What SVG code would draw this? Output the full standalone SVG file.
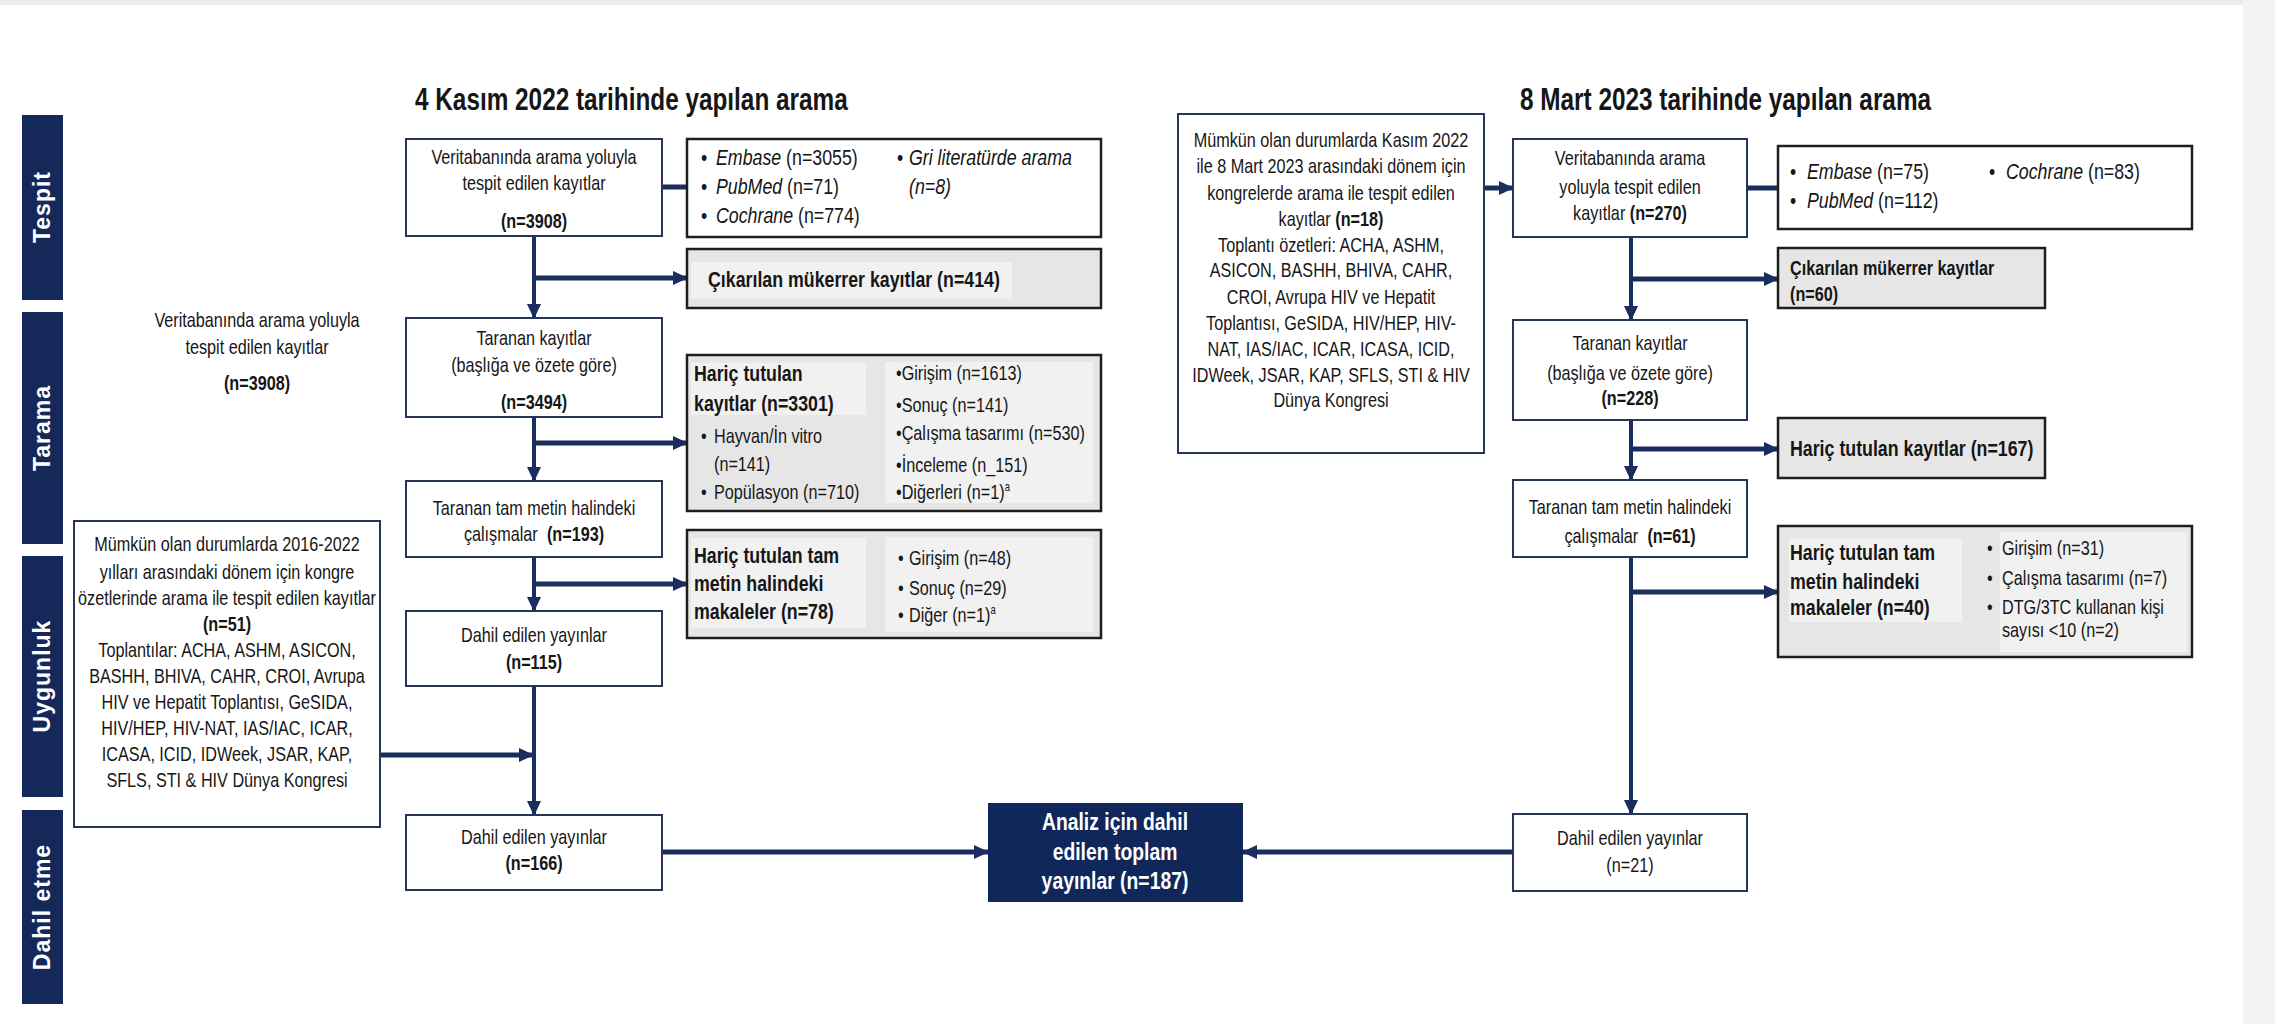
<svg xmlns="http://www.w3.org/2000/svg" width="2275" height="1024" viewBox="0 0 2275 1024">
<style>
text{font-family:"Liberation Sans",Arial,sans-serif;fill:#161616;font-size:20.5px}
.c{text-anchor:middle}
.b{font-weight:bold}
.h{font-weight:bold;font-size:22.5px}
.i{font-style:italic}
.s{font-size:22.5px}
.ttl{font-weight:bold;font-size:30.8px}
.side{font-weight:bold;font-size:23px;fill:#fff;text-anchor:middle;letter-spacing:1px}
.w{fill:#fff;font-weight:bold;font-size:24.5px}
.sup{font-size:12px}
.box{fill:#fff;stroke:#26355a;stroke-width:2}
.ex{fill:#e6e6e6;stroke:#1e1e1e;stroke-width:2.5}
.pn{fill:#f1f1f1}
.sb{fill:#14285a}
.ln{stroke:#1a2d5e;fill:none}
.v{stroke-width:4}
.hz{stroke-width:5}
</style>
<defs>
<marker id="ah" markerUnits="userSpaceOnUse" markerWidth="16" markerHeight="16" refX="14" refY="8" orient="auto" viewBox="0 0 16 16"><path d="M0,1 L15,8 L0,15 z" fill="#1a2d5e"/></marker>
</defs>
<rect x="0" y="0" width="2275" height="1024" fill="#fff"/>
<rect x="0" y="0" width="2275" height="5" fill="#ededed"/>
<rect x="2243" y="0" width="32" height="1024" fill="#f2f2f2"/>

<g id="lanes">
<g id="lane-tespit"><rect class="sb" x="22" y="115" width="41" height="185"/><text class="side" transform="translate(50,207) rotate(-90)">Tespit</text></g>
<g id="lane-tarama"><rect class="sb" x="22" y="312" width="41" height="232"/><text class="side" transform="translate(50,428) rotate(-90)">Tarama</text></g>
<g id="lane-uygunluk"><rect class="sb" x="22" y="556" width="41" height="241"/><text class="side" transform="translate(50,676) rotate(-90)">Uygunluk</text></g>
<g id="lane-dahil"><rect class="sb" x="22" y="810" width="41" height="194"/><text class="side" transform="translate(50,907) rotate(-90)">Dahil etme</text></g>
</g>

<g id="titles">
<text class="ttl" transform="translate(415,0) scale(.79,1)" y="110">4 Kasım 2022 tarihinde yapılan arama</text>
<text class="ttl" transform="translate(1520,0) scale(.79,1)" y="110">8 Mart 2023 tarihinde yapılan arama</text>
</g>

<g id="connectors">
<line class="ln hz" x1="662" y1="187" x2="687" y2="187"/>
<line class="ln v" x1="534" y1="236" x2="534" y2="318" marker-end="url(#ah)"/>
<line class="ln hz" x1="534" y1="278" x2="687" y2="278" marker-end="url(#ah)"/>
<line class="ln v" x1="534" y1="417" x2="534" y2="481" marker-end="url(#ah)"/>
<line class="ln hz" x1="534" y1="443" x2="687" y2="443" marker-end="url(#ah)"/>
<line class="ln v" x1="534" y1="557" x2="534" y2="611" marker-end="url(#ah)"/>
<line class="ln hz" x1="534" y1="584" x2="687" y2="584" marker-end="url(#ah)"/>
<line class="ln v" x1="534" y1="686" x2="534" y2="815" marker-end="url(#ah)"/>
<line class="ln hz" x1="380" y1="755" x2="533" y2="755" marker-end="url(#ah)"/>
<line class="ln hz" x1="662" y1="852" x2="988" y2="852" marker-end="url(#ah)"/>
<line class="ln hz" x1="1484" y1="188" x2="1513" y2="188" marker-end="url(#ah)"/>
<line class="ln hz" x1="1747" y1="188" x2="1778" y2="188"/>
<line class="ln v" x1="1631" y1="237" x2="1631" y2="320" marker-end="url(#ah)"/>
<line class="ln hz" x1="1631" y1="279" x2="1778" y2="279" marker-end="url(#ah)"/>
<line class="ln v" x1="1631" y1="420" x2="1631" y2="480" marker-end="url(#ah)"/>
<line class="ln hz" x1="1631" y1="449" x2="1778" y2="449" marker-end="url(#ah)"/>
<line class="ln v" x1="1631" y1="557" x2="1631" y2="814" marker-end="url(#ah)"/>
<line class="ln hz" x1="1631" y1="592" x2="1778" y2="592" marker-end="url(#ah)"/>
<line class="ln hz" x1="1513" y1="852" x2="1243" y2="852" marker-end="url(#ah)"/>
</g>

<g id="float-text">
<text class="c" transform="translate(257,0) scale(.79,1)"><tspan x="0" y="327">Veritabanında arama yoluyla</tspan><tspan x="0" y="354">tespit edilen kayıtlar</tspan><tspan x="0" y="390" class="b">(n=3908)</tspan></text>
</g>

<g id="L-db">
<rect class="box" x="406" y="139" width="256" height="97"/>
<text class="c" transform="translate(534,0) scale(.79,1)"><tspan x="0" y="164">Veritabanında arama yoluyla</tspan><tspan x="0" y="190">tespit edilen kayıtlar</tspan><tspan x="0" y="228" class="b">(n=3908)</tspan></text>
</g>

<g id="L-sources">
<rect class="box" x="687" y="139" width="414" height="98" style="stroke:#1e1e1e;stroke-width:2.5"/>
<text class="s" transform="translate(701,0) scale(.79,1)"><tspan x="0" y="165">•</tspan><tspan x="0" y="194">•</tspan><tspan x="0" y="223">•</tspan></text>
<text class="s" transform="translate(716,0) scale(.79,1)"><tspan x="0" y="165"><tspan class="i">Embase</tspan> (n=3055)</tspan><tspan x="0" y="194"><tspan class="i">PubMed</tspan> (n=71)</tspan><tspan x="0" y="223"><tspan class="i">Cochrane</tspan> (n=774)</tspan></text>
<text class="s" transform="translate(897,0) scale(.79,1)"><tspan x="0" y="165">•</tspan></text>
<text class="s i" transform="translate(909,0) scale(.79,1)"><tspan x="0" y="165">Gri literatürde arama</tspan><tspan x="0" y="194">(n=8)</tspan></text>
</g>

<g id="L-dup">
<rect class="ex" x="687" y="249" width="414" height="59"/>
<rect class="pn" x="691" y="262" width="321" height="37"/>
<text class="h" transform="translate(708,0) scale(.79,1)" y="287">Çıkarılan mükerrer kayıtlar (n=414)</text>
</g>

<g id="L-screened">
<rect class="box" x="406" y="318" width="256" height="99"/>
<text class="c" transform="translate(534,0) scale(.79,1)"><tspan x="0" y="345">Taranan kayıtlar</tspan><tspan x="0" y="372">(başlığa ve özete göre)</tspan><tspan x="0" y="409" class="b">(n=3494)</tspan></text>
</g>

<g id="L-excl1">
<rect class="ex" x="687" y="355" width="414" height="156"/>
<rect class="pn" x="691" y="363" width="175" height="52"/>
<rect class="pn" x="885" y="362" width="208" height="141"/>
<text class="h" transform="translate(694,0) scale(.79,1)"><tspan x="0" y="381">Hariç tutulan</tspan><tspan x="0" y="411">kayıtlar (n=3301)</tspan></text>
<text transform="translate(701,0) scale(.79,1)"><tspan x="0" y="443">•</tspan><tspan x="0" y="499">•</tspan></text>
<text transform="translate(714,0) scale(.79,1)"><tspan x="0" y="443">Hayvan/İn vitro</tspan><tspan x="0" y="471">(n=141)</tspan><tspan x="0" y="499">Popülasyon (n=710)</tspan></text>
<text transform="translate(896,0) scale(.79,1)"><tspan x="0" y="380">•Girişim (n=1613)</tspan><tspan x="0" y="412">•Sonuç (n=141)</tspan><tspan x="0" y="440">•Çalışma tasarımı (n=530)</tspan><tspan x="0" y="472">•İnceleme (n_151)</tspan><tspan x="0" y="499">•Diğerleri (n=1)<tspan class="sup" dy="-8">a</tspan></tspan></text>
</g>

<g id="L-fulltext">
<rect class="box" x="406" y="481" width="256" height="76"/>
<text class="c" transform="translate(534,0) scale(.79,1)"><tspan x="0" y="515">Taranan tam metin halindeki</tspan><tspan x="0" y="541">çalışmalar <tspan class="b" dx="6">(n=193)</tspan></tspan></text>
</g>

<g id="L-excl2">
<rect class="ex" x="687" y="530" width="414" height="108"/>
<rect class="pn" x="691" y="538" width="175" height="90"/>
<rect class="pn" x="885" y="537" width="208" height="95"/>
<text class="h" transform="translate(694,0) scale(.79,1)"><tspan x="0" y="563">Hariç tutulan tam</tspan><tspan x="0" y="591">metin halindeki</tspan><tspan x="0" y="619">makaleler (n=78)</tspan></text>
<text transform="translate(898,0) scale(.79,1)"><tspan x="0" y="565">•</tspan><tspan x="0" y="595">•</tspan><tspan x="0" y="622">•</tspan></text>
<text transform="translate(909,0) scale(.79,1)"><tspan x="0" y="565">Girişim (n=48)</tspan><tspan x="0" y="595">Sonuç (n=29)</tspan><tspan x="0" y="622">Diğer (n=1)<tspan class="sup" dy="-8">a</tspan></tspan></text>
</g>

<g id="L-incl115">
<rect class="box" x="406" y="611" width="256" height="75"/>
<text class="c" transform="translate(534,0) scale(.79,1)"><tspan x="0" y="642">Dahil edilen yayınlar</tspan><tspan x="0" y="669" class="b">(n=115)</tspan></text>
</g>

<g id="L-congress">
<rect class="box" x="74" y="521" width="306" height="306"/>
<text class="c" transform="translate(227,0) scale(.79,1)"><tspan x="0" y="551">Mümkün olan durumlarda 2016-2022</tspan><tspan x="0" y="579">yılları arasındaki dönem için kongre</tspan><tspan x="0" y="605">özetlerinde arama ile tespit edilen kayıtlar</tspan><tspan x="0" y="631" class="b">(n=51)</tspan><tspan x="0" y="657">Toplantılar: ACHA, ASHM, ASICON,</tspan><tspan x="0" y="683">BASHH, BHIVA, CAHR, CROI, Avrupa</tspan><tspan x="0" y="709">HIV ve Hepatit Toplantısı, GeSIDA,</tspan><tspan x="0" y="735">HIV/HEP, HIV-NAT, IAS/IAC, ICAR,</tspan><tspan x="0" y="761">ICASA, ICID, IDWeek, JSAR, KAP,</tspan><tspan x="0" y="787">SFLS, STI &amp; HIV Dünya Kongresi</tspan></text>
</g>

<g id="L-incl166">
<rect class="box" x="406" y="815" width="256" height="75"/>
<text class="c" transform="translate(534,0) scale(.79,1)"><tspan x="0" y="844">Dahil edilen yayınlar</tspan><tspan x="0" y="870" class="b">(n=166)</tspan></text>
</g>

<g id="total">
<rect x="988" y="803" width="255" height="99" fill="#10275b"/>
<text class="w c" transform="translate(1115,0) scale(.79,1)"><tspan x="0" y="830">Analiz için dahil</tspan><tspan x="0" y="860">edilen toplam</tspan><tspan x="0" y="889">yayınlar (n=187)</tspan></text>
</g>

<g id="R-congress">
<rect class="box" x="1178" y="114" width="306" height="339"/>
<text class="c" transform="translate(1331,0) scale(.79,1)"><tspan x="0" y="147">Mümkün olan durumlarda Kasım 2022</tspan><tspan x="0" y="173">ile 8 Mart 2023 arasındaki dönem için</tspan><tspan x="0" y="200">kongrelerde arama ile tespit edilen</tspan><tspan x="0" y="226">kayıtlar <tspan class="b">(n=18)</tspan></tspan><tspan x="0" y="252">Toplantı özetleri: ACHA, ASHM,</tspan><tspan x="0" y="277">ASICON, BASHH, BHIVA, CAHR,</tspan><tspan x="0" y="304">CROI, Avrupa HIV ve Hepatit</tspan><tspan x="0" y="330">Toplantısı, GeSIDA, HIV/HEP, HIV-</tspan><tspan x="0" y="356">NAT, IAS/IAC, ICAR, ICASA, ICID,</tspan><tspan x="0" y="382">IDWeek, JSAR, KAP, SFLS, STI &amp; HIV</tspan><tspan x="0" y="407">Dünya Kongresi</tspan></text>
</g>

<g id="R-db">
<rect class="box" x="1513" y="139" width="234" height="98"/>
<text class="c" transform="translate(1630,0) scale(.79,1)"><tspan x="0" y="165">Veritabanında arama</tspan><tspan x="0" y="194">yoluyla tespit edilen</tspan><tspan x="0" y="220">kayıtlar <tspan class="b">(n=270)</tspan></tspan></text>
</g>

<g id="R-sources">
<rect class="box" x="1778" y="146" width="414" height="83" style="stroke:#1e1e1e;stroke-width:2.5"/>
<text class="s" transform="translate(1790,0) scale(.79,1)"><tspan x="0" y="179">•</tspan><tspan x="0" y="208">•</tspan></text>
<text class="s" transform="translate(1807,0) scale(.79,1)"><tspan x="0" y="179"><tspan class="i">Embase</tspan> (n=75)</tspan><tspan x="0" y="208"><tspan class="i">PubMed</tspan> (n=112)</tspan></text>
<text class="s" transform="translate(1989,0) scale(.79,1)" y="179">•</text>
<text class="s" transform="translate(2006,0) scale(.79,1)" y="179"><tspan class="i">Cochrane</tspan> (n=83)</text>
</g>

<g id="R-dup">
<rect class="ex" x="1778" y="248" width="267" height="60"/>
<text class="b" transform="translate(1790,0) scale(.79,1)"><tspan x="0" y="275">Çıkarılan mükerrer kayıtlar</tspan><tspan x="0" y="301">(n=60)</tspan></text>
</g>

<g id="R-screened">
<rect class="box" x="1513" y="320" width="234" height="100"/>
<text class="c" transform="translate(1630,0) scale(.79,1)"><tspan x="0" y="350">Taranan kayıtlar</tspan><tspan x="0" y="380">(başlığa ve özete göre)</tspan><tspan x="0" y="405" class="b">(n=228)</tspan></text>
</g>

<g id="R-excl1">
<rect class="ex" x="1778" y="418" width="267" height="60"/>
<text class="h" transform="translate(1790,0) scale(.79,1)" y="456">Hariç tutulan kayıtlar (n=167)</text>
</g>

<g id="R-fulltext">
<rect class="box" x="1513" y="480" width="234" height="77"/>
<text class="c" transform="translate(1630,0) scale(.79,1)"><tspan x="0" y="514">Taranan tam metin halindeki</tspan><tspan x="0" y="543">çalışmalar <tspan class="b" dx="6">(n=61)</tspan></tspan></text>
</g>

<g id="R-excl2">
<rect class="ex" x="1778" y="526" width="414" height="131"/>
<rect class="pn" x="1789" y="539" width="173" height="83"/>
<rect class="pn" x="2000" y="532" width="187" height="120"/>
<text class="h" transform="translate(1790,0) scale(.79,1)"><tspan x="0" y="560">Hariç tutulan tam</tspan><tspan x="0" y="589">metin halindeki</tspan><tspan x="0" y="615">makaleler (n=40)</tspan></text>
<text transform="translate(1987,0) scale(.79,1)"><tspan x="0" y="555">•</tspan><tspan x="0" y="585">•</tspan><tspan x="0" y="614">•</tspan></text>
<text transform="translate(2002,0) scale(.79,1)"><tspan x="0" y="555">Girişim (n=31)</tspan><tspan x="0" y="585">Çalışma tasarımı (n=7)</tspan><tspan x="0" y="614">DTG/3TC kullanan kişi</tspan><tspan x="0" y="637">sayısı &lt;10 (n=2)</tspan></text>
</g>

<g id="R-incl21">
<rect class="box" x="1513" y="814" width="234" height="77"/>
<text class="c" transform="translate(1630,0) scale(.79,1)"><tspan x="0" y="845">Dahil edilen yayınlar</tspan><tspan x="0" y="872">(n=21)</tspan></text>
</g>
</svg>
